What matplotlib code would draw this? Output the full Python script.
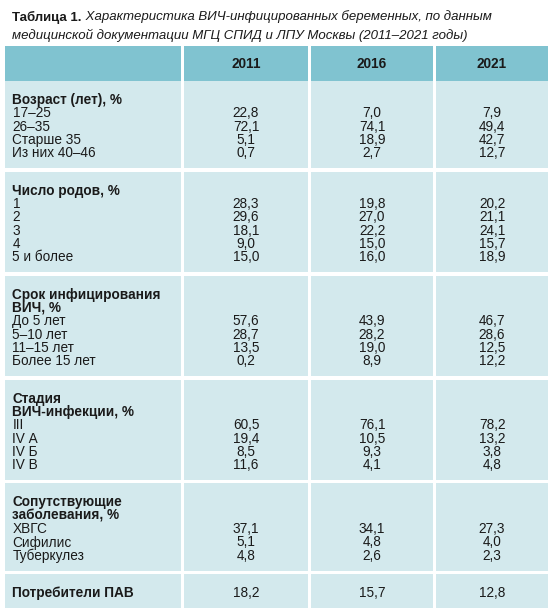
import matplotlib
matplotlib.use("Agg")
import matplotlib.pyplot as plt
from matplotlib.patches import Rectangle

plt.rcParams['font.family'] = ['Liberation Sans', 'DejaVu Sans']

# ---------------- data ----------------
title_bold = "Таблица 1."
title_italic_1 = " Характеристика ВИЧ-инфицированных беременных, по данным"
title_italic_2 = "медицинской документации МГЦ СПИД и ЛПУ Москвы (2011–2021 годы)"

years = ["2011", "2016", "2021"]

age_title = ["Возраст (лет), %"]
age_labels = ["17–25", "26–35", "Старше 35", "Из них 40–46"]
age_values = [[22.8, 72.1, 5.1, 0.7],
              [7.0, 74.1, 18.9, 2.7],
              [7.9, 49.4, 42.7, 12.7]]

births_title = ["Число родов, %"]
births_labels = ["1", "2", "3", "4", "5 и более"]
births_values = [[28.3, 29.6, 18.1, 9.0, 15.0],
                 [19.8, 27.0, 22.2, 15.0, 16.0],
                 [20.2, 21.1, 24.1, 15.7, 18.9]]

term_title = ["Срок инфицирования", "ВИЧ, %"]
term_labels = ["До 5 лет", "5–10 лет", "11–15 лет", "Более 15 лет"]
term_values = [[57.6, 28.7, 13.5, 0.2],
               [43.9, 28.2, 19.0, 8.9],
               [46.7, 28.6, 12.5, 12.2]]

stage_title = ["Стадия", "ВИЧ-инфекции, %"]
stage_labels = ["III", "IV А", "IV Б", "IV В"]
stage_values = [[60.5, 19.4, 8.5, 11.6],
                [76.1, 10.5, 9.3, 4.1],
                [78.2, 13.2, 3.8, 4.8]]

comorb_title = ["Сопутствующие", "заболевания, %"]
comorb_labels = ["ХВГС", "Сифилис", "Туберкулез"]
comorb_values = [[37.1, 5.1, 4.8],
                 [34.1, 4.8, 2.6],
                 [27.3, 4.0, 2.3]]

pav_title = ["Потребители ПАВ"]
pav_labels = []
pav_values = [[18.2], [15.7], [12.8]]

sections = [
    (age_title, age_labels, age_values),
    (births_title, births_labels, births_values),
    (term_title, term_labels, term_values),
    (stage_title, stage_labels, stage_values),
    (comorb_title, comorb_labels, comorb_values),
    (pav_title, pav_labels, pav_values),
]

# ---------------- style / layout ----------------
W, H = 557, 612
HEADER_C = "#80C3D0"
BODY_C = "#D3E9ED"
TXT_C = "#1a1a1a"
FS = 9.8
TITLE_FS = 9.55

col_edges = [(5, 181), (184, 308), (311, 433), (436, 548)]
header_top, header_bot = 46, 81
line_h = 13.35
pad_top, pad_bot = 19, 15
sec_gap = 3.2

fig = plt.figure(figsize=(W / 100, H / 100), dpi=100)
ax = fig.add_axes([0, 0, 1, 1])
ax.set_xlim(0, W)
ax.set_ylim(H, 0)
ax.axis("off")

def fmt(v):
    return f"{v:.1f}".replace(".", ",")

# title
fig.canvas.draw()
r = fig.canvas.get_renderer()
t1 = ax.text(12, 17, title_bold, fontsize=TITLE_FS, fontweight="bold",
             va="center", ha="left", color=TXT_C)
bb = t1.get_window_extent(renderer=r)
x_end = ax.transData.inverted().transform((bb.x1, bb.y0))[0]
ax.text(x_end, 17, title_italic_1, fontsize=TITLE_FS, style="italic",
        va="center", ha="left", color=TXT_C)
ax.text(12, 35, title_italic_2, fontsize=TITLE_FS, style="italic",
        va="center", ha="left", color=TXT_C)

# header row
for i, (x0, x1) in enumerate(col_edges):
    ax.add_patch(Rectangle((x0, header_top), x1 - x0, header_bot - header_top,
                           facecolor=HEADER_C, edgecolor="none"))
    if i > 0:
        ax.text((x0 + x1) / 2, (header_top + header_bot) / 2 + 0.5, years[i - 1],
                fontsize=FS, fontweight="bold", ha="center", va="center",
                color=TXT_C)

# body sections
y = header_bot
for si, (title, labels, values) in enumerate(sections):
    n = len(title) + len(labels)
    h = pad_top + (n - 1) * line_h + pad_bot
    for (x0, x1) in col_edges:
        ax.add_patch(Rectangle((x0, y), x1 - x0, h, facecolor=BODY_C,
                               edgecolor="none"))
    ly = y + pad_top
    for tl in title:
        ax.text(12.5, ly, tl, fontsize=FS, fontweight="bold", ha="left",
                va="center", color=TXT_C)
        ly += line_h
    if labels:
        ly0 = ly
        for lab in labels:
            ax.text(12.5, ly, lab, fontsize=FS, ha="left", va="center",
                    color=TXT_C)
            ly += line_h
    else:
        ly0 = y + pad_top
    for ci, vals in enumerate(values):
        x0, x1 = col_edges[ci + 1]
        for k, v in enumerate(vals):
            ax.text((x0 + x1) / 2, ly0 + k * line_h, fmt(v), fontsize=FS,
                    ha="center", va="center", color=TXT_C)
    y += h + sec_gap

fig.savefig("out.png", dpi=100, facecolor="white")
